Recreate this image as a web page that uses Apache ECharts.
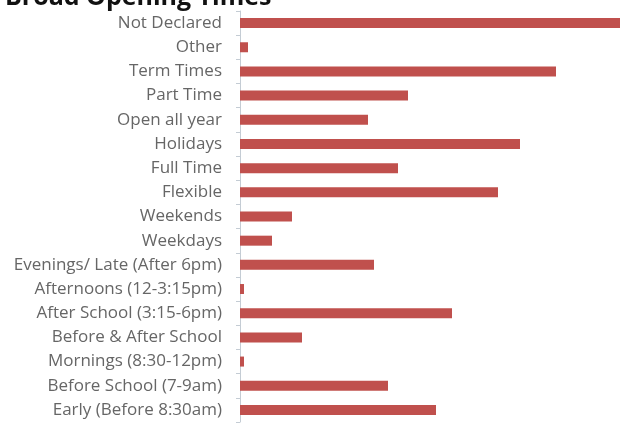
<!DOCTYPE html>
<html>
<head>
<meta charset="utf-8">
<script src="https://cdn.jsdelivr.net/npm/echarts@6/dist/echarts.min.js"></script>
<style>
  html, body { margin: 0; padding: 0; background: #fff; }
  #chart { width: 620px; height: 423px; }
</style>
</head>
<body>
<div id="chart"></div>
<script>
// Opening-time categories, listed top to bottom
const categories = [
  'Not Declared', 'Other', 'Term Times', 'Part Time', 'Open all year',
  'Holidays', 'Full Time', 'Flexible', 'Weekends', 'Weekdays',
  'Evenings/ Late (After 6pm)', 'Afternoons (12-3:15pm)', 'After School (3:15-6pm)',
  'Before & After School', 'Mornings (8:30-12pm)', 'Before School (7-9am)',
  'Early (Before 8:30am)'
];
// Number of providers per category
const counts = [97, 2, 79, 42, 32, 70, 39.5, 64.5, 13, 8, 33.5, 1, 53, 15.5, 1, 37, 49];
const axisMax = 95;

const chart = echarts.init(document.getElementById('chart'), null, { renderer: 'canvas' });
chart.setOption({
  animation: false,
  title: {
    text: 'Broad Opening Times',
    left: 0,
    top: -20,
    textStyle: { fontFamily: 'Open Sans', fontWeight: 'bold', fontSize: 25, color: '#111' }
  },
  grid: { left: 240, right: 0, top: 11, bottom: 1, containLabel: false },
  xAxis: {
    type: 'value', min: 0, max: axisMax,
    axisLabel: { show: false }, axisLine: { show: false },
    axisTick: { show: false }, splitLine: { show: false }
  },
  yAxis: {
    type: 'category', data: categories, inverse: true,
    axisLine: { show: true, lineStyle: { color: '#c4ccd4', width: 1 } },
    axisTick: { show: true, length: 4, lineStyle: { color: '#c4ccd4' } },
    axisLabel: { margin: 18, color: '#666666', fontFamily: 'Open Sans', fontSize: 17 }
  },
  series: [{
    type: 'bar', data: counts, barWidth: 10, clip: true,
    itemStyle: { color: '#c0504d' }
  }]
});
</script>
</body>
</html>
